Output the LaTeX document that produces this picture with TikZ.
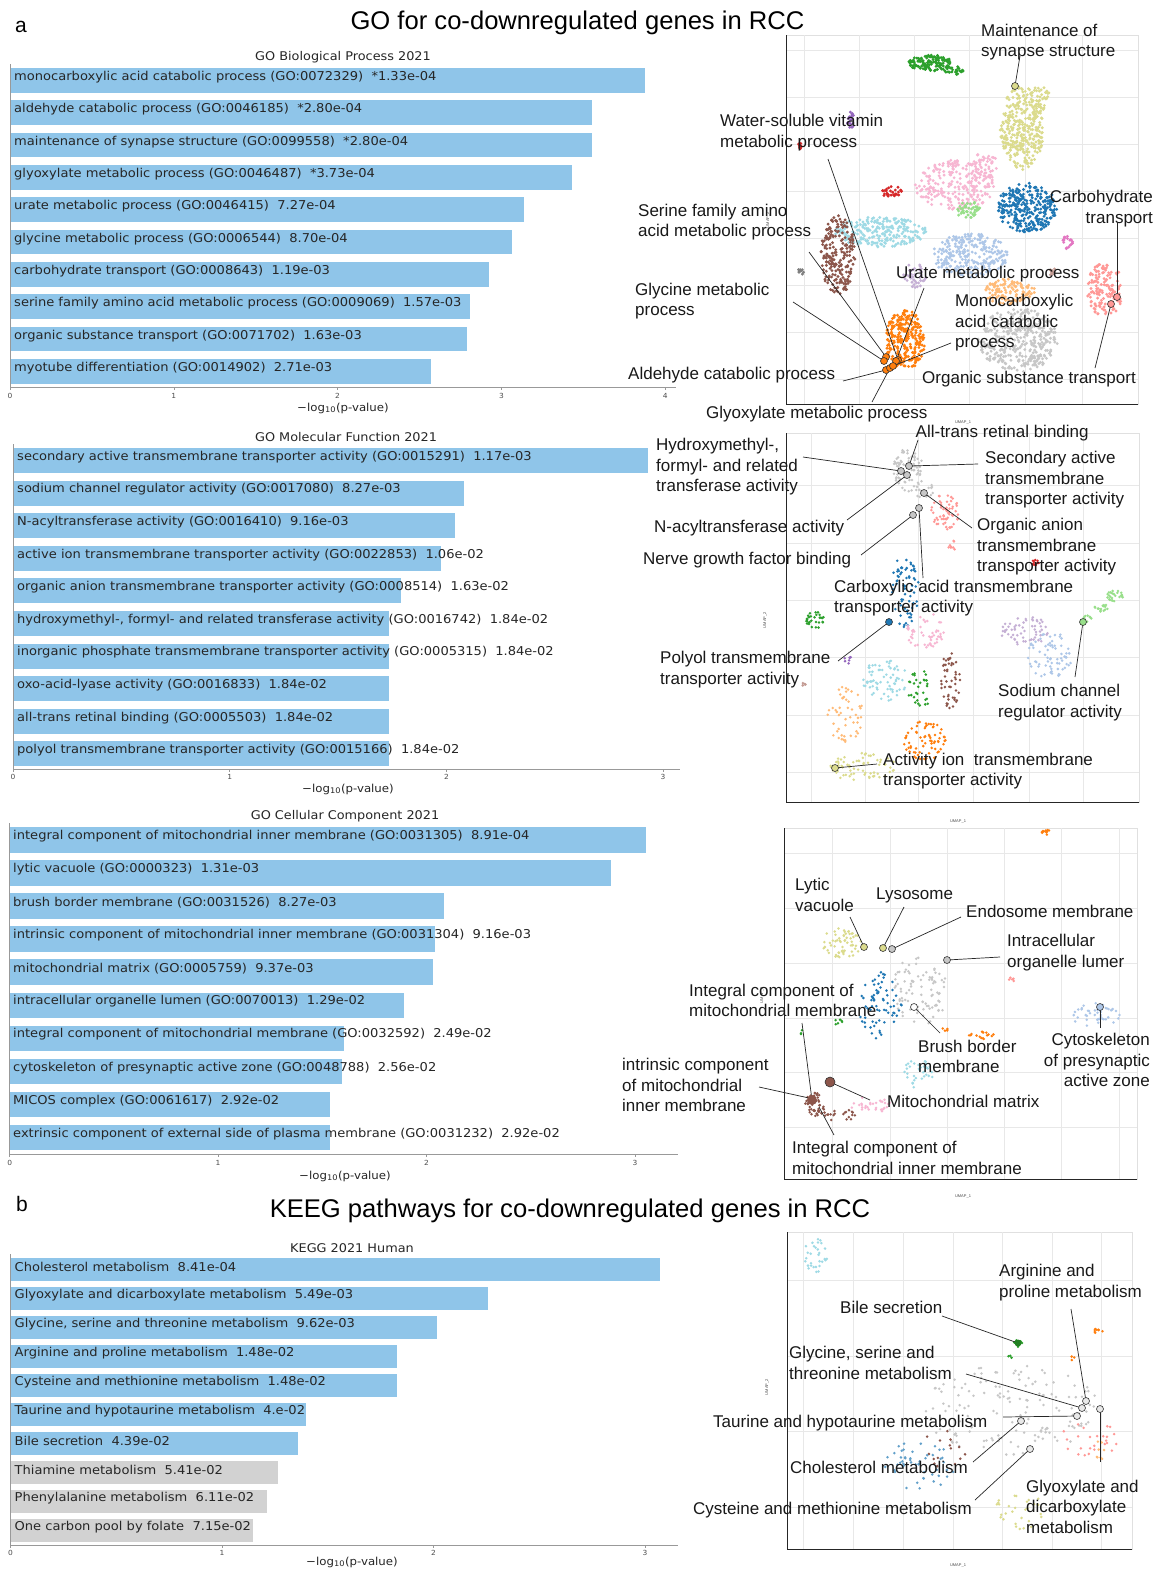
\documentclass[tikz,border=0pt]{standalone}
\usepackage{fontspec}
\setmainfont{Liberation Sans}
\newfontfamily\barfont[FakeStretch=1.07]{DejaVu Sans}
\definecolor{barblue}{HTML}{8FC5E9}
\definecolor{bargray}{HTML}{D2D2D2}
\definecolor{tabblue}{HTML}{1F77B4}
\definecolor{tablightblue}{HTML}{AEC7E8}
\definecolor{taborange}{HTML}{FF7F0E}
\definecolor{tablightorange}{HTML}{FFBB78}
\definecolor{tabgreen}{HTML}{2CA02C}
\definecolor{tablightgreen}{HTML}{98DF8A}
\definecolor{tabred}{HTML}{D62728}
\definecolor{tablightred}{HTML}{FF9896}
\definecolor{tabpurple}{HTML}{9467BD}
\definecolor{tablightpurple}{HTML}{C5B0D5}
\definecolor{tabbrown}{HTML}{8C564B}
\definecolor{tablightbrown}{HTML}{C49C94}
\definecolor{tabpink}{HTML}{E377C2}
\definecolor{tablightpink}{HTML}{F7B6D2}
\definecolor{tabgray}{HTML}{7F7F7F}
\definecolor{tablightgray}{HTML}{C7C7C7}
\definecolor{tablightolive}{HTML}{DBDB8D}
\definecolor{tablightcyan}{HTML}{9EDAE5}
\def\umapdotr{1.4}
\newcommand\umapblob[6]{%
  \foreach \bk in {1,...,#5}{%
    \pgfmathsetmacro\brad{sqrt(rnd)}%
    \pgfmathsetmacro\bang{360*rnd}%
    \fill[#6] ({#1+#3*\brad*cos(\bang)},{#2+#4*\brad*sin(\bang)}) circle[radius=\umapdotr];
  }}
\begin{document}
\begin{tikzpicture}[x=1pt,y=-1pt,
  bartext/.style={font=\barfont\fontsize{12.2}{14}\selectfont, anchor=west, inner sep=0pt, text=black!85},
  bartitle/.style={font=\barfont\fontsize{12}{14}\selectfont, inner sep=0pt, text=black!85},
  ticklab/.style={font=\barfont\fontsize{7}{8}\selectfont, inner sep=0pt, text=black!70},
  xlab/.style={font=\barfont\fontsize{11}{13}\selectfont, inner sep=0pt, text=black!85},
  axisline/.style={draw=black!40, line width=0.6pt},
  umaplab/.style={font=\fontsize{17}{20.5}\selectfont, inner sep=0pt, anchor=west, align=left, text=black!90},
  umaplabr/.style={font=\fontsize{17}{20.5}\selectfont, inner sep=0pt, anchor=east, align=right, text=black!90},
  leader/.style={draw=black!85, line width=0.7pt},
  mk/.style={draw=black!80, line width=0.6pt, fill=#1},
  umapgrid/.style={draw=black!9, line width=0.6pt},
  umapaxis/.style={draw=black!85, line width=0.8pt},
  tinylab/.style={font=\fontsize{4}{5}\selectfont, inner sep=0pt, text=black!70},
]
\useasboundingbox[fill=white] (0,0) rectangle (1158,1569);
\pgfmathsetseed{7}

% ---------- titles ----------
\node[font=\fontsize{21}{25}\selectfont, inner sep=0pt] (pa) at (21,27) {a};
\node[font=\fontsize{21}{25}\selectfont, inner sep=0pt] (pb) at (22,1204) {b};
\node[font=\fontsize{25.6}{30}\selectfont, inner sep=0pt] (titlea) at (577.5,23) {GO for co-downregulated genes in RCC};
\node[font=\fontsize{25.6}{30}\selectfont, inner sep=0pt] (titleb) at (570,1211) {KEEG pathways for co-downregulated genes in RCC};

% ---------- chart 1: GO BP ----------
\node[bartitle] (bptitle) at (343,57) {GO Biological Process 2021};
\foreach \lab/\len [count=\i] in {
 {monocarboxylic acid catabolic process (GO:0072329)~~*1.33e-04}/645,
 {aldehyde catabolic process (GO:0046185)~~*2.80e-04}/592,
 {maintenance of synapse structure (GO:0099558)~~*2.80e-04}/592,
 {glyoxylate metabolic process (GO:0046487)~~*3.73e-04}/572,
 {urate metabolic process (GO:0046415)~~7.27e-04}/524,
 {glycine metabolic process (GO:0006544)~~8.70e-04}/512,
 {carbohydrate transport (GO:0008643)~~1.19e-03}/489,
 {serine family amino acid metabolic process (GO:0009069)~~1.57e-03}/470,
 {organic substance transport (GO:0071702)~~1.63e-03}/467,
 {myotube differentiation (GO:0014902)~~2.71e-03}/431}{
  \pgfmathsetmacro\yy{68+(\i-1)*32.35}
  \fill[barblue] (10,\yy) rectangle (\len,\yy+24.5);
  \node[bartext] (bpbar\i) at (14,\yy+9) {\lab};
}
\draw[axisline] (10,64) -- (10,387) -- (676,387);
\foreach \t in {0,...,4}{
  \draw[axisline] (10+163.8*\t,387) -- (10+163.8*\t,390);
  \node[ticklab] (bptick\t) at (10+163.8*\t,396) {\t};
}
\node[xlab] (bpxlab) at (343,408) {−log\textsubscript{10}(p-value)};

% ---------- chart 2: GO MF ----------
\node[bartitle] (mftitle) at (346,437) {GO Molecular Function 2021};
\foreach \lab/\len [count=\i] in {
 {secondary active transmembrane transporter activity (GO:0015291)~~1.17e-03}/648,
 {sodium channel regulator activity (GO:0017080)~~8.27e-03}/464,
 {N-acyltransferase activity (GO:0016410)~~9.16e-03}/455,
 {active ion transmembrane transporter activity (GO:0022853)~~1.06e-02}/441,
 {organic anion transmembrane transporter activity (GO:0008514)~~1.63e-02}/400.5,
 {hydroxymethyl-, formyl- and related transferase activity (GO:0016742)~~1.84e-02}/389,
 {inorganic phosphate transmembrane transporter activity (GO:0005315)~~1.84e-02}/389,
 {oxo-acid-lyase activity (GO:0016833)~~1.84e-02}/389,
 {all-trans retinal binding (GO:0005503)~~1.84e-02}/389,
 {polyol transmembrane transporter activity (GO:0015166)~~1.84e-02}/389}{
  \pgfmathsetmacro\yy{448+(\i-1)*32.6}
  \fill[barblue] (13,\yy) rectangle (\len,\yy+25);
  \node[bartext] (mfbar\i) at (17,\yy+9) {\lab};
}
\draw[axisline] (13,444) -- (13,769) -- (680,769);
\foreach \t in {0,...,3}{
  \draw[axisline] (13+216.7*\t,769) -- (13+216.7*\t,772);
  \node[ticklab] (mftick\t) at (13+216.7*\t,777) {\t};
}
\node[xlab] (mfxlab) at (348,789) {−log\textsubscript{10}(p-value)};

% ---------- chart 3: GO CC ----------
\node[bartitle] (cctitle) at (345,816) {GO Cellular Component 2021};
\foreach \lab/\len [count=\i] in {
 {integral component of mitochondrial inner membrane (GO:0031305)~~8.91e-04}/646,
 {lytic vacuole (GO:0000323)~~1.31e-03}/611,
 {brush border membrane (GO:0031526)~~8.27e-03}/444,
 {intrinsic component of mitochondrial inner membrane (GO:0031304)~~9.16e-03}/435,
 {mitochondrial matrix (GO:0005759)~~9.37e-03}/433,
 {intracellular organelle lumen (GO:0070013)~~1.29e-02}/404,
 {integral component of mitochondrial membrane (GO:0032592)~~2.49e-02}/344,
 {cytoskeleton of presynaptic active zone (GO:0048788)~~2.56e-02}/342,
 {MICOS complex (GO:0061617)~~2.92e-02}/330,
 {extrinsic component of external side of plasma membrane (GO:0031232)~~2.92e-02}/330}{
  \pgfmathsetmacro\yy{827+(\i-1)*33.1}
  \fill[barblue] (9.7,\yy) rectangle (\len,\yy+25.5);
  \node[bartext] (ccbar\i) at (13,\yy+9) {\lab};
}
\draw[axisline] (9.7,823) -- (9.7,1154) -- (678,1154);
\foreach \t in {0,...,3}{
  \draw[axisline] (9.7+208.4*\t,1154) -- (9.7+208.4*\t,1157);
  \node[ticklab] (cctick\t) at (9.7+208.4*\t,1163) {\t};
}
\node[xlab] (ccxlab) at (345,1176) {−log\textsubscript{10}(p-value)};

% ---------- chart 4: KEGG ----------
\node[bartitle] (kgtitle) at (352,1248) {KEGG 2021 Human};
\foreach \lab/\len/\col [count=\i] in {
 {Cholesterol metabolism~~8.41e-04}/660/barblue,
 {Glyoxylate and dicarboxylate metabolism~~5.49e-03}/488/barblue,
 {Glycine, serine and threonine metabolism~~9.62e-03}/437/barblue,
 {Arginine and proline metabolism~~1.48e-02}/397/barblue,
 {Cysteine and methionine metabolism~~1.48e-02}/397/barblue,
 {Taurine and hypotaurine metabolism~~4.e-02}/306/barblue,
 {Bile secretion~~4.39e-02}/297.5/barblue,
 {Thiamine metabolism~~5.41e-02}/278/bargray,
 {Phenylalanine metabolism~~6.11e-02}/267/bargray,
 {One carbon pool by folate~~7.15e-02}/253/bargray}{
  \pgfmathsetmacro\yy{1258+(\i-1)*29}
  \fill[\col] (10.6,\yy) rectangle (\len,\yy+23);
  \node[bartext] (kgbar\i) at (14.5,\yy+8.5) {\lab};
}
\draw[axisline] (10.6,1254) -- (10.6,1545) -- (678,1545);
\foreach \t in {0,...,3}{
  \draw[axisline] (10.6+211.5*\t,1545) -- (10.6+211.5*\t,1548);
  \node[ticklab] (kgtick\t) at (10.6+211.5*\t,1553) {\t};
}
\node[xlab] (kgxlab) at (352,1562) {−log\textsubscript{10}(p-value)};

% =============== UMAP 1 ===============
\def\umapdotr{1.6}
\draw[draw=black!12, line width=0.6pt] (786,35) rectangle (1138,404);
\foreach \gx in {804,859,914,969,1025,1082}{\draw[umapgrid] (\gx,35) -- (\gx,404);}
\foreach \gy in {50,97,144,191,238,285,332,379}{\draw[umapgrid] (786,\gy) -- (1138,\gy);}
\umapblob{1018}{340}{40}{32}{360}{tablightgray}
\umapblob{1010}{292}{25}{14}{120}{tablightorange}
\umapblob{880}{232}{47}{15}{240}{tablightcyan}
\umapblob{970}{255}{38}{22}{260}{tablightblue}
\umapblob{955}{185}{40}{25}{250}{tablightpink}
\umapblob{985}{165}{15}{12}{40}{tablightpink}
\umapblob{1022}{128}{22}{42}{340}{tablightolive}
\umapblob{1040}{98}{10}{14}{40}{tablightolive}
\umapblob{930}{63}{22}{8}{130}{tabgreen}
\umapblob{952}{70}{12}{5}{30}{tabgreen}
\umapblob{851}{120}{4}{8}{18}{tabpurple}
\umapblob{800}{146}{3}{3}{8}{tabred}
\umapblob{892}{192}{10}{6}{30}{tabred}
\umapblob{1027}{208}{30}{25}{320}{tabblue}
\umapblob{968}{210}{12}{10}{45}{tablightgreen}
\umapblob{1067}{243}{6}{7}{20}{tabpink}
\umapblob{838}{255}{17}{40}{220}{tabbrown}
\umapblob{801}{272}{4}{3}{10}{tabgray}
\umapblob{915}{275}{12}{13}{40}{tablightpurple}
\umapblob{1105}{290}{18}{28}{140}{tablightred}
\umapblob{1052}{272}{4}{4}{10}{tablightbrown}
\umapblob{905}{340}{20}{30}{270}{taborange}
\def\umapdotr{1.4}
\draw[umapaxis] (786,35) -- (786,404) -- (1138,404);
\node[tinylab] (u1x) at (963,423) {UMAP\_1};
\node[tinylab, rotate=90] (u1y) at (768,220) {UMAP\_2};
\coordinate (c1maint) at (1015,86);   \coordinate (s1maint) at (1020,56);
\coordinate (c1water) at (898,360);   \coordinate (s1water) at (828,159);
\coordinate (c1serine) at (886,357);  \coordinate (s1serine) at (809,252);
\coordinate (c1glycine) at (884,361); \coordinate (s1glycine) at (793,302);
\coordinate (c1aldehyde) at (886,370);\coordinate (s1aldehyde) at (843,381);
\coordinate (c1glyox) at (890,368);   \coordinate (s1glyox) at (872,402);
\coordinate (c1urate) at (896,361);   \coordinate (s1urate) at (924,288);
\coordinate (c1mono) at (893,366);    \coordinate (s1mono) at (951,343);
\coordinate (c1carb) at (1117,297);   \coordinate (s1carb) at (1117,223);
\coordinate (c1organic) at (1111,304);\coordinate (s1organic) at (1095,368);
\foreach \n in {maint,water,serine,glycine,aldehyde,glyox,urate,mono,carb,organic}{\draw[leader] (s1\n) -- (c1\n);}
\draw[mk=tablightolive] (c1maint) circle[radius=3.5];
\foreach \n in {water,serine,glycine,aldehyde,glyox,urate,mono}{\draw[mk=taborange] (c1\n) circle[radius=3.5];}
\draw[mk=tablightred] (c1carb) circle[radius=3.5];
\draw[mk=tablightred] (c1organic) circle[radius=3.5];
\node[umaplab] (l1maint) at (981,42) {Maintenance of\\synapse structure};
\node[umaplab] (l1water) at (720,132.5) {Water-soluble vitamin\\metabolic process};
\node[umaplab] (l1serine) at (638,222) {Serine family amino\\acid metabolic process};
\node[umaplab] (l1glycine) at (635,301) {Glycine metabolic\\process};
\node[umaplab] (l1aldehyde) at (628,375) {Aldehyde catabolic process};
\node[umaplab] (l1glyox) at (706,414) {Glyoxylate metabolic process};
\node[umaplab] (l1urate) at (896,274) {Urate metabolic process};
\node[umaplab] (l1mono) at (955,323) {Monocarboxylic\\acid catabolic\\process};
\node[umaplabr] (l1carb) at (1153,208.5) {Carbohydrate\\transport};
\node[umaplab] (l1organic) at (922,379) {Organic substance transport};

% =============== UMAP 2 ===============
\draw[draw=black!12, line width=0.6pt] (786,433) rectangle (1139,802);
\foreach \gx in {811,865,918,973,1029,1083}{\draw[umapgrid] (\gx,433) -- (\gx,802);}
\foreach \gy in {485,543,600,657,715,772}{\draw[umapgrid] (786,\gy) -- (1139,\gy);}
\umapblob{908}{470}{15}{22}{80}{tablightgray}
\umapblob{925}{490}{10}{10}{20}{tablightgray}
\umapblob{945}{512}{14}{18}{60}{tablightred}
\umapblob{952}{545}{4}{8}{8}{tablightred}
\umapblob{1035}{563}{4}{3}{10}{tabred}
\umapblob{905}{590}{14}{38}{70}{tabblue}
\umapblob{815}{620}{9}{9}{30}{tabgreen}
\umapblob{1087}{618}{6}{4}{8}{tablightgreen}
\umapblob{1100}{607}{8}{5}{15}{tablightgreen}
\umapblob{1115}{596}{8}{6}{25}{tablightgreen}
\umapblob{1025}{630}{25}{15}{60}{tablightpurple}
\umapblob{1050}{655}{22}{25}{70}{tablightblue}
\umapblob{925}{630}{20}{18}{50}{tablightpink}
\umapblob{848}{660}{4}{4}{6}{tabpurple}
\umapblob{885}{680}{22}{22}{70}{tablightcyan}
\umapblob{950}{680}{10}{28}{50}{tabbrown}
\umapblob{920}{690}{12}{20}{30}{tabgreen}
\umapblob{845}{715}{18}{30}{50}{tablightorange}
\umapblob{925}{740}{22}{20}{70}{taborange}
\umapblob{865}{768}{35}{15}{70}{tablightolive}
\umapblob{803}{685}{3}{2}{4}{tablightbrown}
\draw[umapaxis] (786,433) -- (786,802) -- (1139,802);
\node[tinylab] (u2x) at (958,822) {UMAP\_1};
\node[tinylab, rotate=90] (u2y) at (765,620) {UMAP\_2};
\coordinate (c2hydroxy) at (901,471);  \coordinate (s2hydroxy) at (803,457);
\coordinate (c2alltrans) at (909,466); \coordinate (s2alltrans) at (918,440);
\coordinate (c2secondary) at (909,466);\coordinate (s2secondary) at (978,464);
\coordinate (c2nacyl) at (907,475);    \coordinate (s2nacyl) at (847,520);
\coordinate (c2organic) at (924,493);  \coordinate (s2organic) at (972,528);
\coordinate (c2nerve) at (913,515);    \coordinate (s2nerve) at (861,555);
\coordinate (c2carbox) at (919,508);   \coordinate (s2carbox) at (923,578);
\coordinate (c2polyol) at (889,622);   \coordinate (s2polyol) at (838,661);
\coordinate (c2sodium) at (1083,622);  \coordinate (s2sodium) at (1075,677);
\coordinate (c2activity) at (835,768); \coordinate (s2activity) at (877,764);
\foreach \n in {hydroxy,alltrans,secondary,nacyl,organic,nerve,carbox,polyol,sodium,activity}{\draw[leader] (s2\n) -- (c2\n);}
\foreach \n in {hydroxy,alltrans,nacyl,organic,nerve,carbox}{\draw[mk=tablightgray] (c2\n) circle[radius=3.5];}
\draw[mk=tabblue] (c2polyol) circle[radius=3.5];
\draw[mk=tablightgreen] (c2sodium) circle[radius=3.5];
\draw[mk=tablightolive] (c2activity) circle[radius=3.5];
\node[umaplab] (l2alltrans) at (915.5,433) {All-trans retinal binding};
\node[umaplab] (l2hydroxy) at (656,467) {Hydroxymethyl-,\\formyl- and related\\transferase activity};
\node[umaplab] (l2secondary) at (985,480) {Secondary active\\transmembrane\\transporter activity};
\node[umaplab] (l2nacyl) at (654,528) {N-acyltransferase activity};
\node[umaplab] (l2organic) at (977,547) {Organic anion\\transmembrane\\transporter activity};
\node[umaplab] (l2nerve) at (643,560) {Nerve growth factor binding};
\node[umaplab] (l2carbox) at (834,598) {Carboxylic acid transmembrane\\transporter activity};
\node[umaplab] (l2polyol) at (660,669.5) {Polyol transmembrane\\transporter activity};
\node[umaplab] (l2sodium) at (998,702.5) {Sodium channel\\regulator activity};
\node[umaplab] (l2activity) at (883,771) {Activity ion\ \ transmembrane\\transporter activity};

% =============== UMAP 3 ===============
\draw[draw=black!12, line width=0.6pt] (784,828) rectangle (1137,1179);
\foreach \gx in {832,890,947,1004,1061,1119}{\draw[umapgrid] (\gx,828) -- (\gx,1179);}
\foreach \gy in {853,908,963,1018,1072,1127}{\draw[umapgrid] (784,\gy) -- (1137,\gy);}
\umapblob{1045}{832}{5}{3}{10}{taborange}
\umapblob{842}{943}{20}{15}{60}{tablightolive}
\umapblob{920}{990}{28}{35}{90}{tablightgray}
\umapblob{880}{1005}{22}{35}{70}{tabblue}
\umapblob{838}{1022}{6}{3}{6}{tabgreen}
\umapblob{800}{1032}{3}{3}{3}{tabgreen}
\umapblob{945}{1030}{3}{3}{4}{taborange}
\umapblob{982}{1035}{14}{4}{15}{taborange}
\umapblob{1012}{980}{4}{3}{5}{tablightred}
\umapblob{1095}{1015}{25}{12}{45}{tablightblue}
\umapblob{918}{1073}{15}{15}{35}{tablightcyan}
\umapblob{870}{1105}{22}{8}{30}{tablightpink}
\umapblob{815}{1105}{10}{12}{50}{tabbrown}
\umapblob{840}{1115}{18}{6}{20}{tabbrown}
\draw[umapaxis] (784,828) -- (784,1179) -- (1137,1179);
\node[tinylab] (u3x) at (963,1197) {UMAP\_1};
\node[tinylab, rotate=90] (u3y) at (762,995) {UMAP\_2};
\coordinate (c3lytic) at (864,947);     \coordinate (s3lytic) at (850,917);
\coordinate (c3lyso) at (883,948);      \coordinate (s3lyso) at (904,907);
\coordinate (c3endo) at (892,949);      \coordinate (s3endo) at (961,917);
\coordinate (c3intra) at (947,960);     \coordinate (s3intra) at (1000,957);
\coordinate (c3intcomp) at (812,1100);  \coordinate (s3intcomp) at (802,1023);
\coordinate (c3brush) at (914,1007);    \coordinate (s3brush) at (940,1033);
\coordinate (c3cyto) at (1100,1007);    \coordinate (s3cyto) at (1100,1028);
\coordinate (c3intrinsic) at (809,1098);\coordinate (s3intrinsic) at (759,1087);
\coordinate (c3matrix) at (830,1082);   \coordinate (s3matrix) at (870,1100);
\coordinate (c3inner) at (819,1107);    \coordinate (s3inner) at (834,1135);
\foreach \n in {lytic,lyso,endo,intra,intcomp,brush,cyto,intrinsic,matrix,inner}{\draw[leader] (s3\n) -- (c3\n);}
\draw[mk=tablightolive] (c3lytic) circle[radius=3.5];
\draw[mk=tablightolive] (c3lyso) circle[radius=3.5];
\draw[mk=tablightgray] (c3endo) circle[radius=3.5];
\draw[mk=tablightgray] (c3intra) circle[radius=3.5];
\draw[mk=white] (c3brush) circle[radius=3.5];
\draw[mk=tablightblue] (c3cyto) circle[radius=3.5];
\draw[mk=tabbrown] (c3matrix) circle[radius=5];
\fill[tabbrown] (c3intcomp) circle[radius=5];
\node[umaplab] (l3lytic) at (795,895) {Lytic\\vacuole};
\node[umaplab] (l3lyso) at (876,895) {Lysosome};
\node[umaplab] (l3endo) at (966,911) {Endosome membrane};
\node[umaplab] (l3intra) at (1007,952.5) {Intracellular\\organelle lumer};
\node[umaplab] (l3intcomp) at (689,1000.5) {Integral component of\\mitochondrial membrane};
\node[umaplab] (l3brush) at (918,1056.5) {Brush border\\membrane};
\node[umaplabr] (l3cyto) at (1150,1060) {Cytoskeleton\\of presynaptic\\active zone};
\node[umaplab] (l3intrinsic) at (622,1085) {intrinsic component\\of mitochondrial\\inner membrane};
\node[umaplab] (l3matrix) at (887,1101) {Mitochondrial matrix};
\node[umaplab] (l3inner) at (792,1158) {Integral component of\\mitochondrial inner membrane};

% =============== UMAP 4 ===============
\draw[draw=black!12, line width=0.6pt] (787,1232) rectangle (1132,1549);
\foreach \gx in {803,853,903,953,1002,1052,1101}{\draw[umapgrid] (\gx,1232) -- (\gx,1549);}
\foreach \gy in {1280,1356,1431,1507}{\draw[umapgrid] (787,\gy) -- (1132,\gy);}
\umapblob{815}{1255}{13}{18}{30}{tablightcyan}
\umapblob{1010}{1410}{90}{45}{150}{tablightgray}
\umapblob{920}{1465}{35}{25}{50}{tabblue!70}
\umapblob{1090}{1440}{30}{20}{25}{tablightred}
\umapblob{1020}{1510}{25}{20}{30}{tablightolive}
\umapblob{945}{1450}{25}{20}{15}{tabbrown}
\umapblob{1100}{1450}{5}{10}{8}{tablightorange}
\umapblob{1097}{1331}{7}{3}{8}{taborange}
\umapblob{1072}{1358}{3}{3}{3}{taborange}
\umapblob{1018}{1343}{4}{4}{14}{tabgreen}
\umapblob{1012}{1356}{4}{3}{3}{tabgreen}
\draw[umapaxis] (787,1232) -- (787,1549) -- (1132,1549);
\node[tinylab] (u4x) at (958,1566) {UMAP\_1};
\node[tinylab, rotate=90] (u4y) at (767,1387) {UMAP\_2};
\coordinate (c4arg) at (1086,1401);   \coordinate (s4arg) at (1071,1309);
\coordinate (c4bile) at (1018,1343);  \coordinate (s4bile) at (942,1316);
\coordinate (c4gly) at (1082,1408);   \coordinate (s4gly) at (966,1374);
\coordinate (c4tau) at (1077,1416);   \coordinate (s4tau) at (1003,1417);
\coordinate (c4chol) at (1021,1421);  \coordinate (s4chol) at (973,1462);
\coordinate (c4cys) at (1030,1449);   \coordinate (s4cys) at (975,1500);
\coordinate (c4glyox) at (1100,1409); \coordinate (s4glyox) at (1100,1462);
\foreach \n in {arg,bile,gly,tau,chol,cys,glyox}{\draw[leader] (s4\n) -- (c4\n);}
\foreach \n in {arg,gly,tau,chol,cys,glyox}{\draw[mk=tablightgray!40] (c4\n) circle[radius=3.5];}
\fill[tabgreen!80!black] (c4bile) circle[radius=3.5];
\node[umaplab] (l4arg) at (999,1282.5) {Arginine and\\proline metabolism};
\node[umaplab] (l4bile) at (840,1307) {Bile secretion};
\node[umaplab] (l4gly) at (789,1363) {Glycine, serine and\\threonine metabolism};
\node[umaplab] (l4tau) at (713,1423) {Taurine and hypotaurine metabolism};
\node[umaplab] (l4chol) at (790,1467) {Cholesterol metabolism};
\node[umaplab] (l4cys) at (693,1510) {Cysteine and methionine metabolism};
\node[umaplab] (l4glyox) at (1026,1506.5) {Glyoxylate and\\dicarboxylate\\metabolism};
\end{tikzpicture}
\end{document}
